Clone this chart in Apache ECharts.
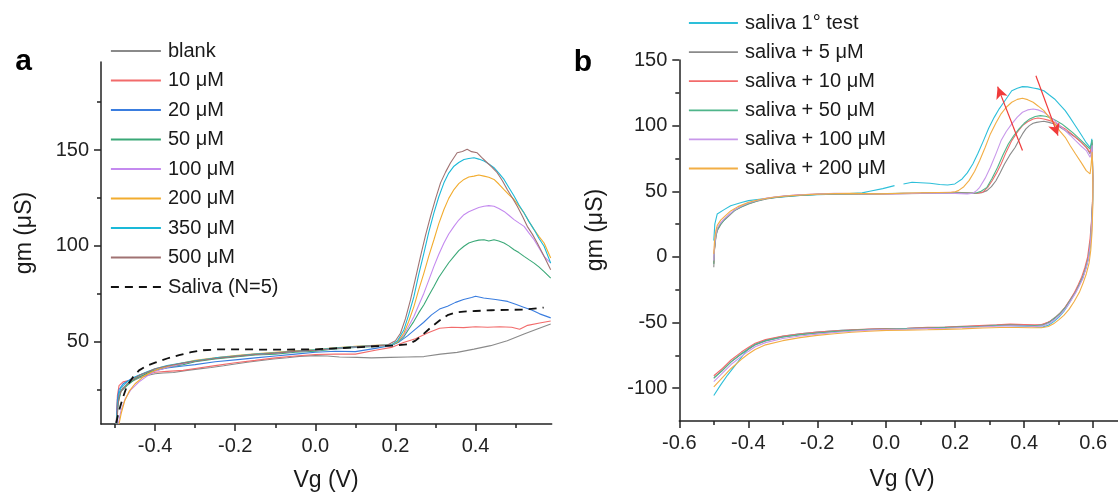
<!DOCTYPE html>
<html><head><meta charset="utf-8">
<script src="https://cdn.jsdelivr.net/npm/echarts@6/dist/echarts.min.js"></script>
<style>html,body{margin:0;padding:0;background:#fff}#c{width:1118px;height:494px}</style>
</head><body><div id="c"></div>
<script>
// ---------- Panel a data (Vg [V], gm [µS]) ----------
const namesA = ['blank', '10 μM', '20 μM', '50 μM', '100 μM', '200 μM', '350 μM', '500 μM', 'Saliva (N=5)'];
const colorsA = ['#8a8a8a', '#f26b6b', '#3a7ddf', '#3aa877', '#c48aef', '#f2ac2e', '#1ab9d8', '#a07272', '#111111'];

const blankA = [[-0.497,7],[-0.494,18],[-0.49,23],[-0.48,26],[-0.46,29],[-0.44,31],[-0.42,32.3],[-0.4,33.2],[-0.38,33.6],[-0.354,33.9],[-0.32,35],[-0.29,35.8],[-0.26,36.5],[-0.229,37.4],[-0.2,38.3],[-0.17,39.2],[-0.14,40],[-0.104,40.9],[-0.07,41.6],[-0.04,42.3],[0,42.7],[0.03,42.5],[0.06,42],[0.104,41.8],[0.14,41.5],[0.1875,41.8],[0.23,42],[0.271,42.2],[0.3125,43.5],[0.354,44.4],[0.396,46.1],[0.4375,47.9],[0.479,50.5],[0.521,54],[0.554,56.6],[0.5875,59.2]];
const m10A = [[-0.497,7],[-0.494,22],[-0.49,27],[-0.48,29],[-0.46,30],[-0.44,31.5],[-0.42,33],[-0.4,34],[-0.37,34.5],[-0.33,35],[-0.3,36],[-0.25,37.5],[-0.2,39],[-0.15,40.2],[-0.1,41.5],[-0.05,42.5],[0,43.3],[0.05,43.5],[0.1,43.5],[0.15,45.5],[0.19,47],[0.22,49.5],[0.25,51.5],[0.28,54.5],[0.31,57],[0.34,57.5],[0.37,57.3],[0.4,57.8],[0.43,57.5],[0.46,57.8],[0.49,57.5],[0.51,56.5],[0.53,58.5],[0.56,59.7],[0.5875,60.8]];
const m20A = [[-0.497,7],[-0.494,20],[-0.49,25],[-0.48,28],[-0.46,30.5],[-0.44,32.5],[-0.42,34],[-0.4,35],[-0.37,36.3],[-0.33,37.3],[-0.3,38],[-0.25,39.5],[-0.2,40.5],[-0.15,41.5],[-0.1,42.5],[-0.05,43.5],[0,44.5],[0.05,45],[0.1,44.8],[0.15,46.5],[0.19,48],[0.21,50],[0.23,53],[0.25,56.5],[0.27,60],[0.29,64],[0.31,67],[0.33,68.5],[0.35,70.5],[0.37,72],[0.39,73],[0.4,73.7],[0.42,72.8],[0.45,72],[0.48,71],[0.5,69.5],[0.52,68],[0.54,66.5],[0.56,64.5],[0.5875,62.4]];
const m50A = [[-0.497,7],[-0.492,18],[-0.485,24],[-0.47,27],[-0.45,30.5],[-0.42,33.5],[-0.4,35],[-0.37,36.5],[-0.33,38],[-0.3,39.5],[-0.25,41],[-0.2,42],[-0.15,43],[-0.1,43.5],[-0.05,44.5],[0,45],[0.05,46.2],[0.1,47],[0.15,47.5],[0.19,48.2],[0.205,49.5],[0.221,52.6],[0.233,56.5],[0.246,60.6],[0.258,65],[0.271,69.3],[0.283,74],[0.296,78.8],[0.308,83.5],[0.321,87.5],[0.333,91.2],[0.346,94.5],[0.358,97.5],[0.371,99.8],[0.383,101.5],[0.396,102.4],[0.408,103],[0.421,103.2],[0.433,102.5],[0.446,103.2],[0.458,102.5],[0.471,101.5],[0.483,100],[0.496,98],[0.508,96.5],[0.521,94.5],[0.533,92.8],[0.546,91],[0.558,89],[0.571,86.6],[0.5875,83.2]];
const m100A = [[-0.492,7],[-0.485,14],[-0.475,20],[-0.46,25],[-0.44,29],[-0.42,32],[-0.4,34.5],[-0.37,36.5],[-0.33,38.5],[-0.3,40],[-0.25,41.5],[-0.2,42.5],[-0.15,43.5],[-0.1,44],[-0.05,45],[0,45.5],[0.05,46.5],[0.1,47.2],[0.15,47.8],[0.19,48.3],[0.205,50],[0.221,53.5],[0.233,58],[0.246,63.1],[0.258,69],[0.271,75.3],[0.283,82],[0.296,89.3],[0.308,95.5],[0.321,101.5],[0.333,106.2],[0.346,110.2],[0.358,113.5],[0.371,116.3],[0.383,117.8],[0.396,119],[0.408,120],[0.421,120.7],[0.433,121],[0.446,120.7],[0.458,119.5],[0.471,118],[0.483,116],[0.496,113.7],[0.508,112],[0.521,110.2],[0.533,106.8],[0.546,103.2],[0.558,99],[0.571,94.5],[0.5875,91]];
const m200A = [[-0.49,7],[-0.484,13],[-0.476,19],[-0.465,24],[-0.45,28],[-0.43,31.5],[-0.41,34],[-0.39,35.8],[-0.36,37.5],[-0.33,39],[-0.3,40.2],[-0.25,41.6],[-0.2,42.7],[-0.15,43.6],[-0.1,44.4],[-0.05,45.2],[0,45.9],[0.05,46.8],[0.1,47.6],[0.15,48.1],[0.19,48.4],[0.205,50],[0.221,54.4],[0.233,60.5],[0.246,68.3],[0.258,77],[0.271,85.8],[0.283,94.5],[0.296,103.2],[0.308,111.5],[0.321,119],[0.333,124.8],[0.346,129.4],[0.358,132.5],[0.371,134.7],[0.383,136],[0.396,136.4],[0.408,137],[0.421,136.4],[0.433,135.8],[0.446,134.7],[0.458,132.3],[0.471,129.4],[0.483,126.8],[0.496,124.2],[0.508,120.8],[0.521,117.2],[0.533,112.8],[0.546,108.5],[0.558,105],[0.571,101.5],[0.5875,93.7]];
const m350A = [[-0.495,7],[-0.493,18],[-0.49,23],[-0.485,26],[-0.47,29],[-0.45,31.5],[-0.42,34.3],[-0.4,35.8],[-0.37,37.5],[-0.33,39],[-0.3,40],[-0.25,41.5],[-0.2,42.5],[-0.15,43.5],[-0.1,44.2],[-0.05,45],[0,45.8],[0.05,46.6],[0.1,47.4],[0.15,48],[0.19,48.3],[0.205,50.5],[0.221,56.1],[0.233,64],[0.246,73.5],[0.258,85],[0.271,96.2],[0.283,107],[0.296,117.2],[0.308,125.5],[0.321,132.9],[0.333,138],[0.346,141.6],[0.358,143.5],[0.371,145.1],[0.383,145.6],[0.396,146],[0.408,145.3],[0.421,144.3],[0.433,142.8],[0.446,140.8],[0.458,138],[0.471,134.7],[0.483,130.5],[0.496,126],[0.508,121.5],[0.521,117.2],[0.533,112.8],[0.546,108.5],[0.558,104],[0.571,99.8],[0.5875,91]];
const m500A = [[-0.495,7],[-0.493,16],[-0.49,21],[-0.485,24],[-0.47,28],[-0.45,31],[-0.435,32.8],[-0.42,34],[-0.4,35.8],[-0.37,37.3],[-0.33,38.8],[-0.3,39.8],[-0.25,41.2],[-0.2,42.3],[-0.15,43.3],[-0.1,44],[-0.05,44.9],[0,45.5],[0.05,46.4],[0.1,47.3],[0.15,47.9],[0.18,48.2],[0.2,50.5],[0.2125,54.4],[0.225,62],[0.2375,71.8],[0.25,83],[0.2625,94.5],[0.275,105.5],[0.2875,115.4],[0.3,124.5],[0.3125,132.9],[0.325,138.5],[0.3375,143.4],[0.354,148.6],[0.367,149.3],[0.379,150.4],[0.39,149.2],[0.404,148.6],[0.415,146.2],[0.429,143.4],[0.44,141.2],[0.454,138.2],[0.467,134],[0.479,129.4],[0.492,125],[0.504,120.7],[0.517,115.5],[0.529,110.2],[0.542,106],[0.554,101.5],[0.57,95],[0.5875,87.5]];
const salivaA = [[-0.497,7.5],[-0.49,14],[-0.48,21],[-0.47,27],[-0.455,31.5],[-0.44,35],[-0.42,37.5],[-0.4,39],[-0.37,41.2],[-0.34,43],[-0.31,44.5],[-0.28,45.5],[-0.24,46],[-0.2,46],[-0.1,45.8],[0,46],[0.05,46.5],[0.1,47],[0.15,47.6],[0.2,48],[0.23,48.6],[0.25,50.5],[0.27,54],[0.29,57.7],[0.31,61],[0.33,63.8],[0.35,65.2],[0.37,65.7],[0.4,66],[0.44,66.4],[0.48,66.6],[0.52,66.7],[0.57,67.8]];
const seriesA = [blankA, m10A, m20A, m50A, m100A, m200A, m350A, m500A, salivaA];

// ---------- Panel b data (full cycle: forward branch then backward branch) ----------
const namesB = ['saliva 1° test', 'saliva + 5 μM', 'saliva + 10 μM', 'saliva + 50 μM', 'saliva + 100 μM', 'saliva + 200 μM'];
const colorsB = ['#2dbfd9', '#8a8a8a', '#f26b6b', '#4fb58a', '#c898ea', '#f2ae45'];

const test1B = [[-0.5,12.4],[-0.497,25],[-0.49,32.7],[-0.47,36],[-0.451,39],[-0.42,41.5],[-0.399,42.9],[-0.35,44.5],[-0.3,45.6],[-0.25,46.8],[-0.2,47.3],[-0.12,48],[-0.07,48.8],[-0.048,50],[-0.01,52],[0.024,54.3],[0.037,null],[0.05,55.6],[0.075,56.9],[0.1,56.5],[0.127,56.1],[0.155,55.2],[0.178,54.8],[0.199,55.6],[0.22,59.4],[0.235,64],[0.251,70.8],[0.266,79],[0.282,88.6],[0.297,98],[0.313,106.3],[0.328,113],[0.344,119],[0.364,126.6],[0.38,128.5],[0.395,129.7],[0.41,129.5],[0.426,128.7],[0.44,128],[0.457,126.6],[0.472,123.5],[0.488,120.3],[0.503,116],[0.519,111.4],[0.532,106.5],[0.545,101.3],[0.557,96.5],[0.57,91.1],[0.58,87],[0.591,83.5],[0.594,86],[0.596,90],[0.598,70],[0.599,45],[0.597,28],[0.594,14],[0.588,1],[0.58,-8],[0.57,-15],[0.558,-22],[0.545,-28.5],[0.53,-35.5],[0.515,-41.5],[0.5,-46],[0.485,-49.5],[0.47,-52],[0.455,-53.3],[0.44,-53.5],[0.42,-53],[0.38,-52.5],[0.33,-52],[0.28,-52.5],[0.22,-53.2],[0.15,-53.8],[0.08,-54.3],[0,-55],[-0.07,-55.3],[-0.13,-56],[-0.2,-57.3],[-0.25,-58.5],[-0.3,-60.5],[-0.35,-63.5],[-0.38,-66.5],[-0.4,-70],[-0.41,-73],[-0.43,-80],[-0.46,-90],[-0.48,-97.5],[-0.5,-105.6]];
const p5B = [[-0.5,-7.9],[-0.498,5],[-0.494,15],[-0.49,20],[-0.48,24.5],[-0.471,27.7],[-0.455,31.5],[-0.44,35.3],[-0.42,38],[-0.399,40.4],[-0.375,42.5],[-0.347,44.2],[-0.32,45.3],[-0.286,46.2],[-0.25,46.9],[-0.203,47.5],[-0.15,47.8],[-0.1,48],[-0.05,47.8],[0,48],[0.05,48.2],[0.1,48.3],[0.15,48.6],[0.189,48.5],[0.23,48.3],[0.261,48.5],[0.278,49],[0.292,50.5],[0.305,53.5],[0.318,58],[0.33,64],[0.343,70.8],[0.358,77.5],[0.374,83.5],[0.385,89],[0.395,93.7],[0.405,97.5],[0.415,100],[0.426,101.8],[0.436,102.5],[0.447,103],[0.457,103.3],[0.472,102.5],[0.488,101.3],[0.503,99],[0.519,96.2],[0.534,93.8],[0.549,91.1],[0.565,87.5],[0.58,83.5],[0.591,78.4],[0.595,83],[0.597,87],[0.599,60],[0.598,40],[0.595,25],[0.592,12],[0.585,-2],[0.577,-9],[0.57,-16],[0.56,-21],[0.55,-26],[0.535,-32],[0.52,-38],[0.505,-42.5],[0.49,-46],[0.475,-49],[0.455,-51.5],[0.43,-52.2],[0.4,-52],[0.36,-51.8],[0.32,-52.2],[0.27,-52.8],[0.22,-53.1],[0.175,-53.8],[0.12,-54],[0.06,-54.5],[0,-54.8],[-0.05,-55.2],[-0.1,-56],[-0.15,-56.8],[-0.2,-58],[-0.25,-59.3],[-0.3,-61],[-0.35,-64],[-0.38,-67],[-0.4,-70.5],[-0.42,-74],[-0.45,-80],[-0.475,-86.5],[-0.5,-92]];
const p10B = [[-0.5,-5],[-0.498,6],[-0.494,16],[-0.49,21],[-0.48,25.5],[-0.47,28.5],[-0.455,32],[-0.44,35.5],[-0.42,38.5],[-0.4,40.8],[-0.375,42.8],[-0.35,44.5],[-0.32,45.6],[-0.29,46.5],[-0.25,47.3],[-0.2,47.8],[-0.15,48.3],[-0.1,48.2],[-0.05,48],[0,48.1],[0.05,48.4],[0.1,48.6],[0.15,49],[0.2,49.2],[0.24,48.8],[0.265,48.5],[0.281,49.5],[0.294,53],[0.307,58],[0.32,64],[0.333,70.8],[0.348,80],[0.364,88.6],[0.38,95],[0.395,100],[0.41,103],[0.426,105.1],[0.44,105.8],[0.457,105.1],[0.472,104],[0.488,102.5],[0.503,100],[0.519,97.5],[0.534,94.5],[0.549,91.1],[0.565,87.5],[0.58,83.5],[0.591,79.7],[0.595,84],[0.597,87],[0.599,60],[0.598,42],[0.595,27],[0.591,14],[0.584,0],[0.576,-8],[0.567,-15],[0.557,-21],[0.546,-27],[0.532,-33],[0.517,-39],[0.502,-43.5],[0.487,-47],[0.47,-49.8],[0.45,-51.5],[0.43,-51.8],[0.4,-51.5],[0.36,-51.2],[0.32,-51.8],[0.27,-52.3],[0.22,-52.8],[0.17,-53.4],[0.12,-53.7],[0.06,-54.3],[0,-54.5],[-0.05,-55],[-0.1,-55.6],[-0.15,-56.3],[-0.2,-57.3],[-0.25,-58.5],[-0.3,-60.2],[-0.35,-63],[-0.38,-65.8],[-0.4,-69],[-0.42,-72.5],[-0.45,-78.5],[-0.475,-85],[-0.5,-90.5]];
const p50B = [[-0.5,-5.3],[-0.498,6],[-0.494,15.5],[-0.49,20.5],[-0.48,25],[-0.47,28],[-0.455,32],[-0.44,35.3],[-0.42,38.2],[-0.4,40.5],[-0.375,42.6],[-0.35,44.3],[-0.32,45.5],[-0.29,46.3],[-0.25,47],[-0.2,47.6],[-0.15,48],[-0.1,48.2],[-0.05,48],[0,48.2],[0.05,48.5],[0.1,48.7],[0.15,49],[0.2,48.8],[0.24,48.6],[0.262,48.8],[0.275,50],[0.292,53],[0.307,60],[0.323,68.3],[0.338,77.5],[0.354,86],[0.37,92.5],[0.385,97.5],[0.4,101.8],[0.416,105.1],[0.432,107],[0.447,107.6],[0.462,107.2],[0.478,105.8],[0.493,103.8],[0.509,101.3],[0.524,98.2],[0.54,94.9],[0.555,91.2],[0.571,87.3],[0.591,82.2],[0.595,86],[0.597,89],[0.599,60],[0.598,40],[0.595,24],[0.592,11],[0.586,-1],[0.578,-9],[0.57,-15.5],[0.56,-21],[0.55,-26.5],[0.535,-32.5],[0.52,-38.5],[0.505,-43],[0.49,-46.5],[0.475,-49.5],[0.455,-52],[0.43,-52.5],[0.4,-52.2],[0.36,-52],[0.32,-52.3],[0.27,-53],[0.22,-53.3],[0.175,-53.9],[0.12,-54.2],[0.06,-54.6],[0,-55],[-0.05,-55.3],[-0.1,-56],[-0.15,-56.9],[-0.2,-58],[-0.25,-59.2],[-0.3,-61],[-0.35,-63.8],[-0.38,-66.8],[-0.4,-70.2],[-0.42,-73.8],[-0.45,-80],[-0.475,-86.5],[-0.5,-92.5]];
const p100B = [[-0.5,-2.8],[-0.498,8],[-0.494,17],[-0.49,22],[-0.48,26],[-0.47,29],[-0.455,32.5],[-0.44,35.8],[-0.42,38.8],[-0.4,41],[-0.375,43],[-0.35,44.6],[-0.32,45.8],[-0.29,46.6],[-0.25,47.3],[-0.2,47.8],[-0.15,48.4],[-0.1,48.2],[-0.05,48],[0,47.9],[0.05,48.1],[0.1,48.5],[0.15,48.7],[0.2,48.4],[0.235,48],[0.251,48.5],[0.262,50.5],[0.271,53],[0.287,60],[0.302,68.3],[0.318,78.5],[0.333,88.6],[0.348,95.5],[0.364,101.3],[0.38,106.5],[0.395,110.2],[0.41,112],[0.426,112.7],[0.44,112],[0.457,110.2],[0.472,107.2],[0.488,103.8],[0.503,100],[0.519,96.2],[0.534,92.5],[0.549,88.6],[0.565,84.5],[0.58,81],[0.591,75.9],[0.595,80],[0.597,85],[0.599,60],[0.598,38],[0.595,22],[0.592,10],[0.586,-2],[0.578,-10],[0.57,-16.5],[0.56,-22],[0.55,-27],[0.535,-33.5],[0.52,-39.5],[0.505,-44],[0.49,-47.5],[0.475,-50.3],[0.455,-52.5],[0.43,-53],[0.4,-52.6],[0.36,-52.5],[0.32,-52.8],[0.27,-53.4],[0.22,-53.8],[0.175,-54.3],[0.12,-54.6],[0.06,-55],[0,-55.3],[-0.05,-55.8],[-0.1,-56.6],[-0.15,-57.6],[-0.2,-58.8],[-0.25,-60.2],[-0.3,-62.2],[-0.35,-65.3],[-0.38,-68.5],[-0.4,-72],[-0.42,-75.8],[-0.45,-82],[-0.475,-88.5],[-0.5,-95]];
const p200B = [[-0.5,2.3],[-0.498,12],[-0.494,20],[-0.49,24],[-0.48,28],[-0.47,30.5],[-0.451,35],[-0.43,38.3],[-0.399,41.6],[-0.37,43.5],[-0.327,45.4],[-0.28,46.6],[-0.223,47.5],[-0.15,48.2],[-0.1,48.4],[-0.02,48],[0.05,48.5],[0.1,48.9],[0.15,49.1],[0.189,49.2],[0.2,49.6],[0.209,50.5],[0.225,53.5],[0.24,58.1],[0.256,65],[0.271,73.4],[0.287,83.5],[0.302,93.7],[0.318,102],[0.333,109],[0.348,114],[0.364,117.8],[0.38,120],[0.395,120.8],[0.41,119.8],[0.426,117.8],[0.44,115],[0.457,111.4],[0.472,106.5],[0.488,101.3],[0.503,96],[0.519,91.1],[0.534,84.5],[0.549,78.4],[0.565,72],[0.58,65.7],[0.591,63.2],[0.594,70],[0.597,80],[0.599,60],[0.599,40],[0.597,20],[0.593,5],[0.588,-5],[0.58,-13],[0.57,-20.5],[0.56,-27],[0.545,-34],[0.53,-40],[0.515,-44.5],[0.5,-48],[0.485,-51],[0.47,-53],[0.45,-54],[0.42,-54],[0.38,-53.8],[0.33,-53.8],[0.28,-54.2],[0.22,-54.8],[0.17,-55.2],[0.12,-55.5],[0.06,-55.8],[0,-56],[-0.05,-56.6],[-0.1,-57.4],[-0.15,-58.5],[-0.2,-59.8],[-0.25,-61.5],[-0.3,-63.8],[-0.35,-67],[-0.38,-70.5],[-0.4,-74],[-0.42,-78],[-0.45,-85],[-0.475,-92],[-0.5,-99]];
const seriesB = [test1B, p5B, p10B, p50B, p100B, p200B];

// red annotation arrows in panel b: [tail, head]
const arrowsB = [[[0.395, 81], [0.323, 129.7]], [[0.434, 138], [0.498, 92.4]]];

// ticks
const xMajorA = [-0.4, -0.2, 0, 0.2, 0.4];
const xMinorA = [-0.5, -0.3, -0.1, 0.1, 0.3, 0.5];
const yMajorA = [50, 100, 150];
const yMinorA = [25, 75, 125, 175];
const xMajorB = [-0.6, -0.4, -0.2, 0, 0.2, 0.4, 0.6];
const xMinorB = [-0.5, -0.3, -0.1, 0.1, 0.3, 0.5];
const yMajorB = [-100, -50, 0, 50, 100, 150];
const yMinorB = [-75, -25, 25, 75, 125];

const FONT = "'Liberation Sans', Arial, sans-serif";
const AX = '#222';

function majorAxis(gridIndex, min, max, ticks, fmt, pos) {
  return {
    type: 'value', gridIndex, min, max, position: pos,
    axisLine: { show: true, onZero: false, lineStyle: { color: AX, width: 1.5 } },
    axisTick: { show: true, length: 7, customValues: ticks, lineStyle: { color: AX, width: 1.5 } },
    axisLabel: { show: true, customValues: ticks, formatter: fmt, color: AX, fontSize: 20, fontFamily: FONT, margin: 12 },
    splitLine: { show: false }
  };
}
function minorAxis(gridIndex, min, max, ticks, pos) {
  return {
    type: 'value', gridIndex, min, max, position: pos, offset: 0,
    axisLine: { show: false, onZero: false },
    axisTick: { show: true, length: 4, customValues: ticks, lineStyle: { color: AX, width: 1.5 } },
    axisLabel: { show: false },
    splitLine: { show: false }
  };
}
const f1 = v => v.toFixed(1);
const f0 = v => String(Math.round(v));

const series = [];
seriesA.forEach((d, i) => {
  series.push({
    name: namesA[i], type: 'line', xAxisIndex: 0, yAxisIndex: 0, data: d,
    symbol: 'none', smooth: false,
    lineStyle: { color: colorsA[i], width: i === 8 ? 1.8 : 1.1, type: i === 8 ? [8, 6] : 'solid' },
    itemStyle: { color: colorsA[i] }, z: i === 8 ? 5 : 2
  });
});
seriesB.forEach((d, i) => {
  const s = {
    name: namesB[i], type: 'line', xAxisIndex: 2, yAxisIndex: 2, data: d,
    symbol: 'none', smooth: false, connectNulls: false,
    lineStyle: { color: colorsB[i], width: 1.1 },
    itemStyle: { color: colorsB[i] }, z: 2
  };
  if (i === 0) {
    s.markLine = {
      silent: true, symbol: ['none', 'arrow'], symbolSize: [9, 12], animation: false,
      lineStyle: { color: '#f03a3a', width: 1.2, type: 'solid' },
      label: { show: false },
      data: arrowsB.map(a => [{ coord: a[0] }, { coord: a[1] }])
    };
  }
  series.push(s);
});

const legendBase = {
  orient: 'vertical', padding: 0, itemHeight: 2,
  textStyle: { fontSize: 20, fontFamily: FONT, color: '#1a1a1a', lineHeight: 20, padding: [0, 0, 0, 2] },
  lineStyle: { width: 1.8 }, itemStyle: { opacity: 0 }, selectedMode: false
};

const chart = echarts.init(document.getElementById('c'), null, { renderer: 'canvas' });
chart.setOption({
  animation: false,
  backgroundColor: '#ffffff',
  grid: [
    { left: 101, top: 62, width: 450.7, height: 362 },
    { left: 679.3, top: 60, right: 0, height: 361 }
  ],
  xAxis: [
    majorAxis(0, -0.535, 0.59, xMajorA, f1, 'bottom'),
    minorAxis(0, -0.535, 0.59, xMinorA, 'bottom'),
    majorAxis(1, -0.6, 0.672, xMajorB, f1, 'bottom'),
    minorAxis(1, -0.6, 0.672, xMinorB, 'bottom')
  ],
  yAxis: [
    majorAxis(0, 7, 196, yMajorA, f0, 'left'),
    minorAxis(0, 7, 196, yMinorA, 'left'),
    majorAxis(1, -125, 150, yMajorB, f0, 'left'),
    minorAxis(1, -125, 150, yMinorB, 'left')
  ],
  legend: [
    Object.assign({}, legendBase, { data: namesA, left: 110, top: 41, itemWidth: 50, itemGap: 9.5 }),
    Object.assign({}, legendBase, { data: namesB, left: 688, top: 13, itemWidth: 49, itemGap: 9.1 })
  ],
  graphic: [
    { type: 'text', x: 23.5, y: 62, style: { text: 'a', font: "bold 30px 'Liberation Sans', Arial, sans-serif", fill: '#000', align: 'center', verticalAlign: 'middle' } },
    { type: 'text', x: 583, y: 63, style: { text: 'b', font: "bold 30px 'Liberation Sans', Arial, sans-serif", fill: '#000', align: 'center', verticalAlign: 'middle' } },
    { type: 'text', x: 25, y: 233, rotation: Math.PI / 2, style: { text: 'gm (μS)', font: "23px 'Liberation Sans', Arial, sans-serif", fill: '#1a1a1a', align: 'center', verticalAlign: 'middle' } },
    { type: 'text', x: 596, y: 230, rotation: Math.PI / 2, style: { text: 'gm (μS)', font: "23px 'Liberation Sans', Arial, sans-serif", fill: '#1a1a1a', align: 'center', verticalAlign: 'middle' } },
    { type: 'text', x: 326, y: 481, style: { text: 'Vg (V)', font: "23px 'Liberation Sans', Arial, sans-serif", fill: '#1a1a1a', align: 'center', verticalAlign: 'middle' } },
    { type: 'text', x: 902, y: 480, style: { text: 'Vg (V)', font: "23px 'Liberation Sans', Arial, sans-serif", fill: '#1a1a1a', align: 'center', verticalAlign: 'middle' } }
  ],
  series
});
</script>
</body></html>
